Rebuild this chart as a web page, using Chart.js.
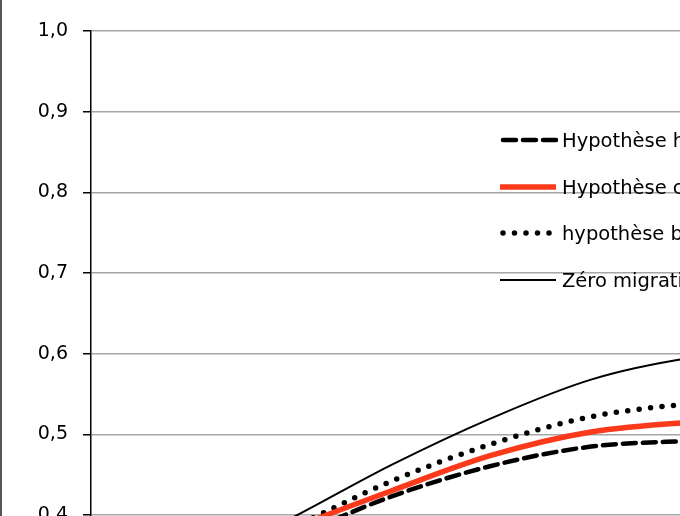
<!DOCTYPE html>
<html>
<head>
<meta charset="utf-8">
<script src="https://cdn.jsdelivr.net/npm/chart.js@4.4.0/dist/chart.umd.min.js"></script>
<style>
  html, body { margin: 0; padding: 0; background: #fff; overflow: hidden; width: 680px; height: 516px; }
  #wrap { position: relative; width: 680px; height: 516px; overflow: hidden; }
  #frame { position: absolute; left: 0; top: 0; width: 2px; height: 516px; background: #555; z-index: 2; }
  #chart { position: absolute; left: 0; top: 0; }
  #legend { position: absolute; left: 500px; top: 125px; font-family: "DejaVu Sans", sans-serif; font-size: 19.5px; color: #000; white-space: nowrap; }
  .row { position: absolute; left: 0; height: 30px; display: flex; align-items: center; }
  .row svg { width: 58px; height: 10px; margin-right: 4px; }
</style>
</head>
<body>
<div id="wrap">
  <div id="frame"></div>
  <canvas id="chart" width="1221" height="878"></canvas>
  <div id="legend"></div>
</div>
<script>
// Years (x axis, below the visible part)
const years = ['2005', '2010', '2015', '2020', '2025', '2030', '2035', '2040', '2045', '2050', '2055', '2060'];

// Series
const seriesNames = ['Hypothèse haute', 'Hypothèse centrale', 'hypothèse basse', 'Zéro migration'];
const hauteData = [0.28, 0.325, 0.372, 0.423, 0.461, 0.485, 0.492, 0.495, 0.496, 0.495, 0.493, 0.491];
const centraleData = [0.28, 0.33, 0.383, 0.430, 0.474, 0.503, 0.515, 0.520, 0.522, 0.522, 0.520, 0.518];
const basseData = [0.28, 0.33, 0.384, 0.442, 0.488, 0.522, 0.538, 0.545, 0.547, 0.547, 0.545, 0.543];
const zeroData = [0.28, 0.335, 0.396, 0.462, 0.520, 0.568, 0.595, 0.607, 0.612, 0.612, 0.609, 0.607];

// Y tick labels
const yTicks = [0, 0.1, 0.2, 0.3, 0.4, 0.5, 0.6, 0.7, 0.8, 0.9, 1.0];

const red = '#fb3a1c';

const datasets = [
    { label: seriesNames[0], data: hauteData, borderColor: '#000', borderWidth: 4.5, borderDash: [13, 7], borderCapStyle: 'round' },
    { label: seriesNames[1], data: centraleData, borderColor: red, borderWidth: 5.5 },
    { label: seriesNames[2], data: basseData, borderColor: '#000', borderWidth: 5.5, borderDash: [0, 11.5], borderCapStyle: 'round' },
    { label: seriesNames[3], data: zeroData, borderColor: '#000', borderWidth: 2 }
];
datasets.forEach(d => {
    d.pointRadius = 0;
    d.fill = false;
    d.cubicInterpolationMode = 'monotone';
});

const ctx = document.getElementById('chart').getContext('2d');
const chart = new Chart(ctx, {
    type: 'line',
    data: { labels: years, datasets: datasets },
    options: {
        responsive: false,
        animation: false,
        devicePixelRatio: 1,
        layout: { padding: { top: 31, right: 30, bottom: 0, left: 0 } },
        plugins: { legend: { display: false }, tooltip: { enabled: false } },
        scales: {
            x: {
                offset: false,
                grid: { display: false },
                border: { color: '#000', width: 1.5 },
                ticks: { color: '#000', font: { family: 'DejaVu Sans', size: 19 } },
                afterFit: s => { s.height = 40; }
            },
            y: {
                min: 0,
                max: 1,
                afterBuildTicks: s => { s.ticks = yTicks.map(v => ({ value: v })); },
                ticks: {
                    color: '#000',
                    padding: 15,
                    font: { family: 'DejaVu Sans', size: 19 },
                    callback: v => v.toFixed(1).replace('.', ',')
                },
                grid: { color: '#a6a6a6', lineWidth: 1.5, tickLength: 8, tickColor: '#000', tickWidth: 1.5 },
                border: { color: '#000', width: 1.5 },
                afterFit: s => { s.width = 91; }
            }
        }
    }
});

// Legend, placed inside the plot like the original
const legend = document.getElementById('legend');
const rowTops = [0, 47, 93, 140];
datasets.forEach((d, i) => {
    const row = document.createElement('div');
    row.className = 'row';
    row.style.top = rowTops[i] + 'px';
    const dash = d.borderDash ? d.borderDash.join(' ') : 'none';
    const cap = d.borderCapStyle || 'butt';
    row.innerHTML = '<svg viewBox="0 0 58 10"><line x1="' + (cap === 'round' ? 3 : 0) + '" y1="5" x2="56" y2="5" stroke="' + d.borderColor +
        '" stroke-width="' + d.borderWidth + '" stroke-dasharray="' + dash + '" stroke-linecap="' + cap + '"/></svg>';
    const span = document.createElement('span');
    span.textContent = d.label;
    row.appendChild(span);
    legend.appendChild(row);
});
</script>
</body>
</html>
